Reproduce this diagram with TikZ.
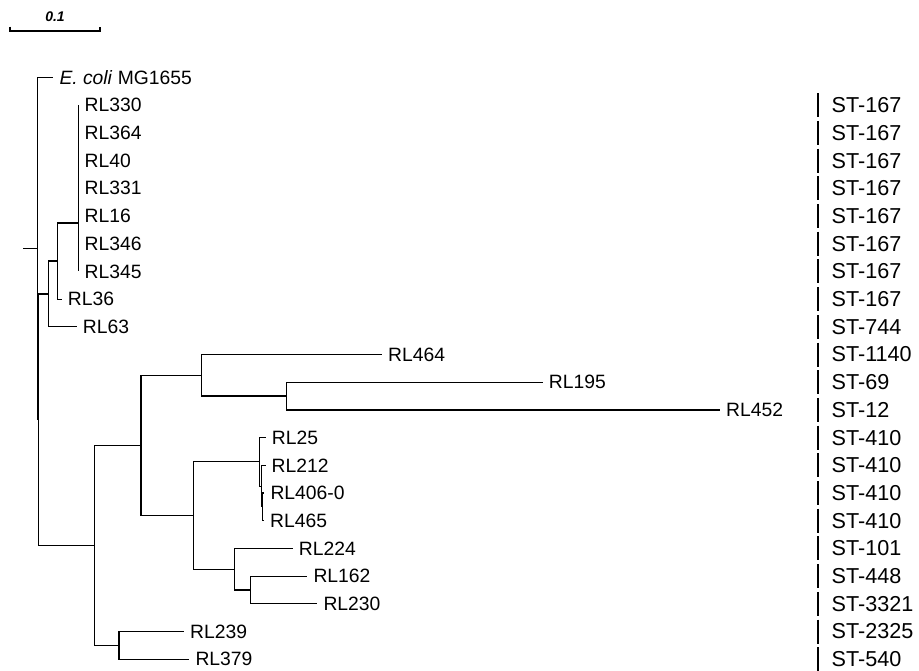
\documentclass[tikz,border=0pt]{standalone}
\usepackage{fontspec}
\setmainfont{Liberation Sans}
\begin{document}
\begin{tikzpicture}[x=1pt,y=-1pt,
  br/.style={line width=1.2pt, black},
  lab/.style={anchor=west, inner sep=0pt, text=black, font=\fontsize{19.3}{21}\selectfont},
  stlab/.style={anchor=west, inner sep=0pt, text=black, font=\fontsize{21.6}{23}\selectfont},
  sbtext/.style={inner sep=0pt, font=\fontsize{14}{15}\selectfont\bfseries\itshape}]
\useasboundingbox (0,0) rectangle (919,670);
\newcommand\mkleaf[4]{%
  \coordinate (t#1) at (#2,#3);
  \node[lab] (l#1) at (#2+6,#3) {#4};}
% scale bar
\coordinate (sba) at (10,31);
\coordinate (sbb) at (100,31);
\coordinate (sbat) at (10,26.5);
\coordinate (sbbt) at (100,26.5);
\draw[br] (sbat) -- (sba) -- (sbb) -- (sbbt);
\node[sbtext] (sbl) at (55,17) {0.1};
% internal nodes
\coordinate (R0) at (23,248.6);
\coordinate (R)  at (37.3,248.6);
\coordinate (I)  at (38.8,419.7);
\coordinate (A)  at (48.3,293.9);
\coordinate (N3) at (57.3,261);
\coordinate (S)  at (78.3,223);
\coordinate (Stop) at (78.3,105.2);
\coordinate (Sbot) at (78.3,271.4);
\coordinate (B)  at (94.3,545.4);
\coordinate (C1) at (141,445.4);
\coordinate (D1) at (201.7,375.3);
\coordinate (E1) at (286.7,396.05);
\coordinate (D2) at (193.3,515.5);
\coordinate (Fc) at (259.5,461.85);
\coordinate (Fd) at (261.5,486.1);
\coordinate (Fe) at (262.3,506.85);
\coordinate (F2) at (234.3,569.2);
\coordinate (G)  at (250.7,589.95);
\coordinate (C2) at (119,645.35);
% leaves
\mkleaf{ecoli}{53.3}{77.5}{\textit{E. coli} MG1655}
\node[lab] (l330) at (84.5,105.2) {RL330};
\node[lab] (l364) at (84.5,132.9) {RL364};
\node[lab] (l40)  at (84.5,160.6) {RL40};
\node[lab] (l331) at (84.5,188.3) {RL331};
\node[lab] (l16)  at (84.5,216.0) {RL16};
\node[lab] (l346) at (84.5,243.7) {RL346};
\node[lab] (l345) at (84.5,271.4) {RL345};
\mkleaf{36}{61.7}{299.1}{RL36}
\mkleaf{63}{76.7}{326.8}{RL63}
\mkleaf{464}{382}{354.5}{RL464}
\mkleaf{195}{542.7}{382.2}{RL195}
\mkleaf{452}{720}{409.9}{RL452}
\mkleaf{25}{265.7}{437.6}{RL25}
\mkleaf{212}{265.5}{465.3}{RL212}
\mkleaf{406}{264.3}{493.0}{RL406-0}
\mkleaf{465}{264}{520.7}{RL465}
\mkleaf{224}{292.7}{548.4}{RL224}
\mkleaf{162}{307.3}{576.1}{RL162}
\mkleaf{230}{317.3}{603.8}{RL230}
\mkleaf{239}{184}{631.5}{RL239}
\mkleaf{379}{189.3}{659.2}{RL379}
% branches
\draw[br] (R0) -- (R);
\draw[br] (R) |- (tecoli);
\draw[br] (R) |- (I);
\draw[br] (I) |- (A);
\draw[br] (I) |- (B);
\draw[br] (A) |- (N3);
\draw[br] (A) |- (t63);
\draw[br] (N3) |- (S);
\draw[br] (N3) |- (t36);
\draw[br] (Stop) -- (Sbot);
\draw[br] (B) |- (C1);
\draw[br] (B) |- (C2);
\draw[br] (C1) |- (D1);
\draw[br] (C1) |- (D2);
\draw[br] (D1) |- (t464);
\draw[br] (D1) |- (E1);
\draw[br] (E1) |- (t195);
\draw[br] (E1) |- (t452);
\draw[br] (D2) |- (Fc);
\draw[br] (D2) |- (F2);
\draw[br] (Fc) |- (t25);
\draw[br] (Fc) |- (Fd);
\draw[br] (Fd) |- (t212);
\draw[br] (Fd) |- (Fe);
\draw[br] (Fe) |- (t406);
\draw[br] (Fe) |- (t465);
\draw[br] (F2) |- (t224);
\draw[br] (F2) |- (G);
\draw[br] (G) |- (t162);
\draw[br] (G) |- (t230);
\draw[br] (C2) |- (t239);
\draw[br] (C2) |- (t379);
% sequence types
\foreach \i/\t in {1/ST-167,2/ST-167,3/ST-167,4/ST-167,5/ST-167,6/ST-167,7/ST-167,8/ST-167,9/ST-744,10/ST-1140,11/ST-69,12/ST-12,13/ST-410,14/ST-410,15/ST-410,16/ST-410,17/ST-101,18/ST-448,19/ST-3321,20/ST-2325,21/ST-540}{
  \pgfmathsetmacro\yy{77.5+27.7*\i}
  \coordinate (bt\i) at (818,\yy-12);
  \coordinate (bb\i) at (818,\yy+12);
  \draw[br] (bt\i) -- (bb\i);
  \node[stlab] (st\i) at (831.5,\yy) {\t};
}
\end{tikzpicture}
\end{document}
